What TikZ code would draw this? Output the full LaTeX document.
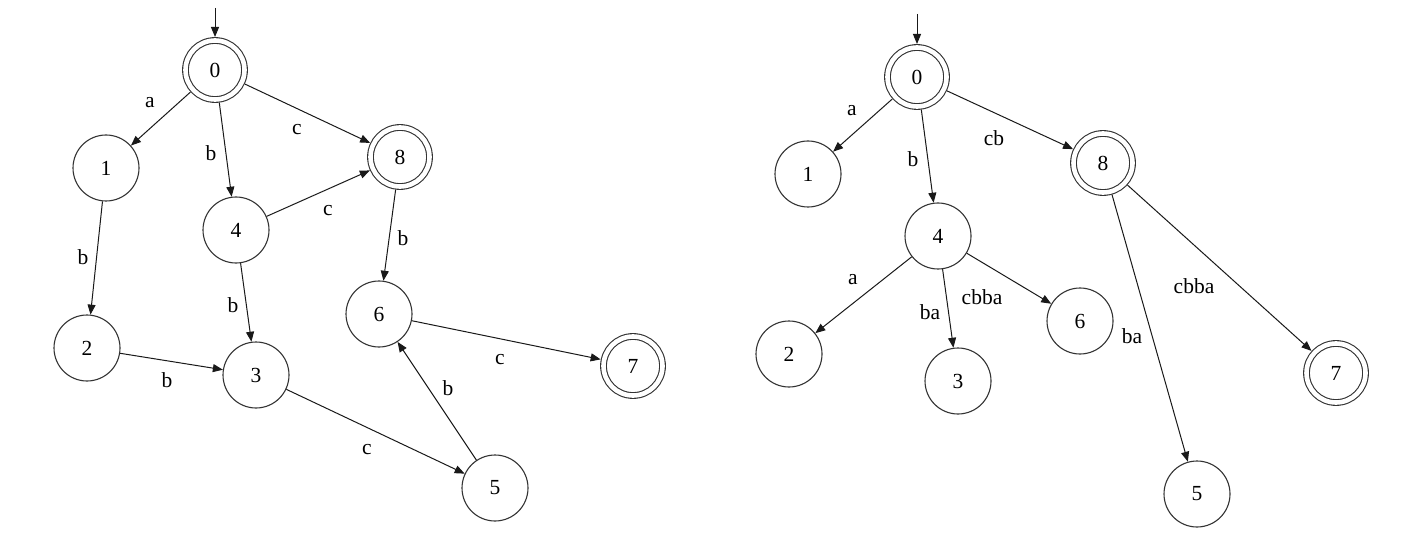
\documentclass[tikz,border=0pt]{standalone}
\usepackage{fontspec}
\setmainfont{Liberation Serif}
\usetikzlibrary{arrows.meta}
\begin{document}
\begin{tikzpicture}[x=1pt,y=-1pt,
  st/.style={circle,draw=black!80,line width=1.1pt,minimum size=66pt,inner sep=0pt,font=\fontsize{21.5}{21.5}\selectfont},
  acc/.style={circle,draw=black!80,line width=1.1pt,double,double distance=4.6pt,minimum size=59pt,outer sep=3.5pt,inner sep=0pt,font=\fontsize{21.5}{21.5}\selectfont},
  tr/.style={draw=black!90,line width=1pt,-{Triangle[length=10pt,width=8pt]}},
  lbl/.style={font=\fontsize{21.5}{21.5}\selectfont,inner sep=0pt}]
\useasboundingbox (0,0) rectangle (1407,545);
% left automaton
\node[acc] (L0) at (215,70) {0};
\node[st] (L1) at (106,168) {1};
\node[st] (L4) at (236,230) {4};
\node[acc] (L8) at (400,157) {8};
\node[st] (L2) at (87,348) {2};
\node[st] (L3) at (256,375) {3};
\node[st] (L6) at (379,314) {6};
\node[acc] (L7) at (633,366) {7};
\node[st] (L5) at (495,488) {5};
\coordinate (Ls) at (215,8);
\draw[tr] (Ls) -- (L0);
\draw[tr] (L0) -- (L1); \node[lbl] (la1) at (150,103) {a};
\draw[tr] (L0) -- (L4); \node[lbl] (la2) at (211,153) {b};
\draw[tr] (L0) -- (L8); \node[lbl] (la3) at (297,130) {c};
\draw[tr] (L4) -- (L8); \node[lbl] (la4) at (328,211) {c};
\draw[tr] (L1) -- (L2); \node[lbl] (la5) at (83,257) {b};
\draw[tr] (L4) -- (L3); \node[lbl] (la6) at (233,305) {b};
\draw[tr] (L2) -- (L3); \node[lbl] (la7) at (167,380) {b};
\draw[tr] (L8) -- (L6); \node[lbl] (la8) at (403,238) {b};
\draw[tr] (L6) -- (L7); \node[lbl] (la9) at (500,360) {c};
\draw[tr] (L5) -- (L6); \node[lbl] (la10) at (448,388) {b};
\draw[tr] (L3) -- (L5); \node[lbl] (la11) at (367,450) {c};
% right tree
\node[acc] (R0) at (917,77) {0};
\node[st] (R1) at (808,174) {1};
\node[st] (R4) at (938,236) {4};
\node[acc] (R8) at (1103,163) {8};
\node[st] (R2) at (789,354) {2};
\node[st] (R3) at (958,381) {3};
\node[st] (R6) at (1080,321) {6};
\node[acc] (R7) at (1336,373) {7};
\node[st] (R5) at (1197,494) {5};
\coordinate (Rs) at (917,14);
\draw[tr] (Rs) -- (R0);
\draw[tr] (R0) -- (R1); \node[lbl] (ra1) at (852,111) {a};
\draw[tr] (R0) -- (R4); \node[lbl] (ra2) at (913,159) {b};
\draw[tr] (R0) -- (R8); \node[lbl] (ra3) at (994,138) {cb};
\draw[tr] (R4) -- (R2); \node[lbl] (ra4) at (853,280) {a};
\draw[tr] (R4) -- (R3); \node[lbl] (ra5) at (930,312) {ba};
\draw[tr] (R4) -- (R6); \node[lbl] (ra6) at (982,297) {cbba};
\draw[tr] (R8) -- (R5); \node[lbl] (ra7) at (1132,336) {ba};
\draw[tr] (R8) -- (R7); \node[lbl] (ra8) at (1194,286) {cbba};
\end{tikzpicture}
\end{document}
